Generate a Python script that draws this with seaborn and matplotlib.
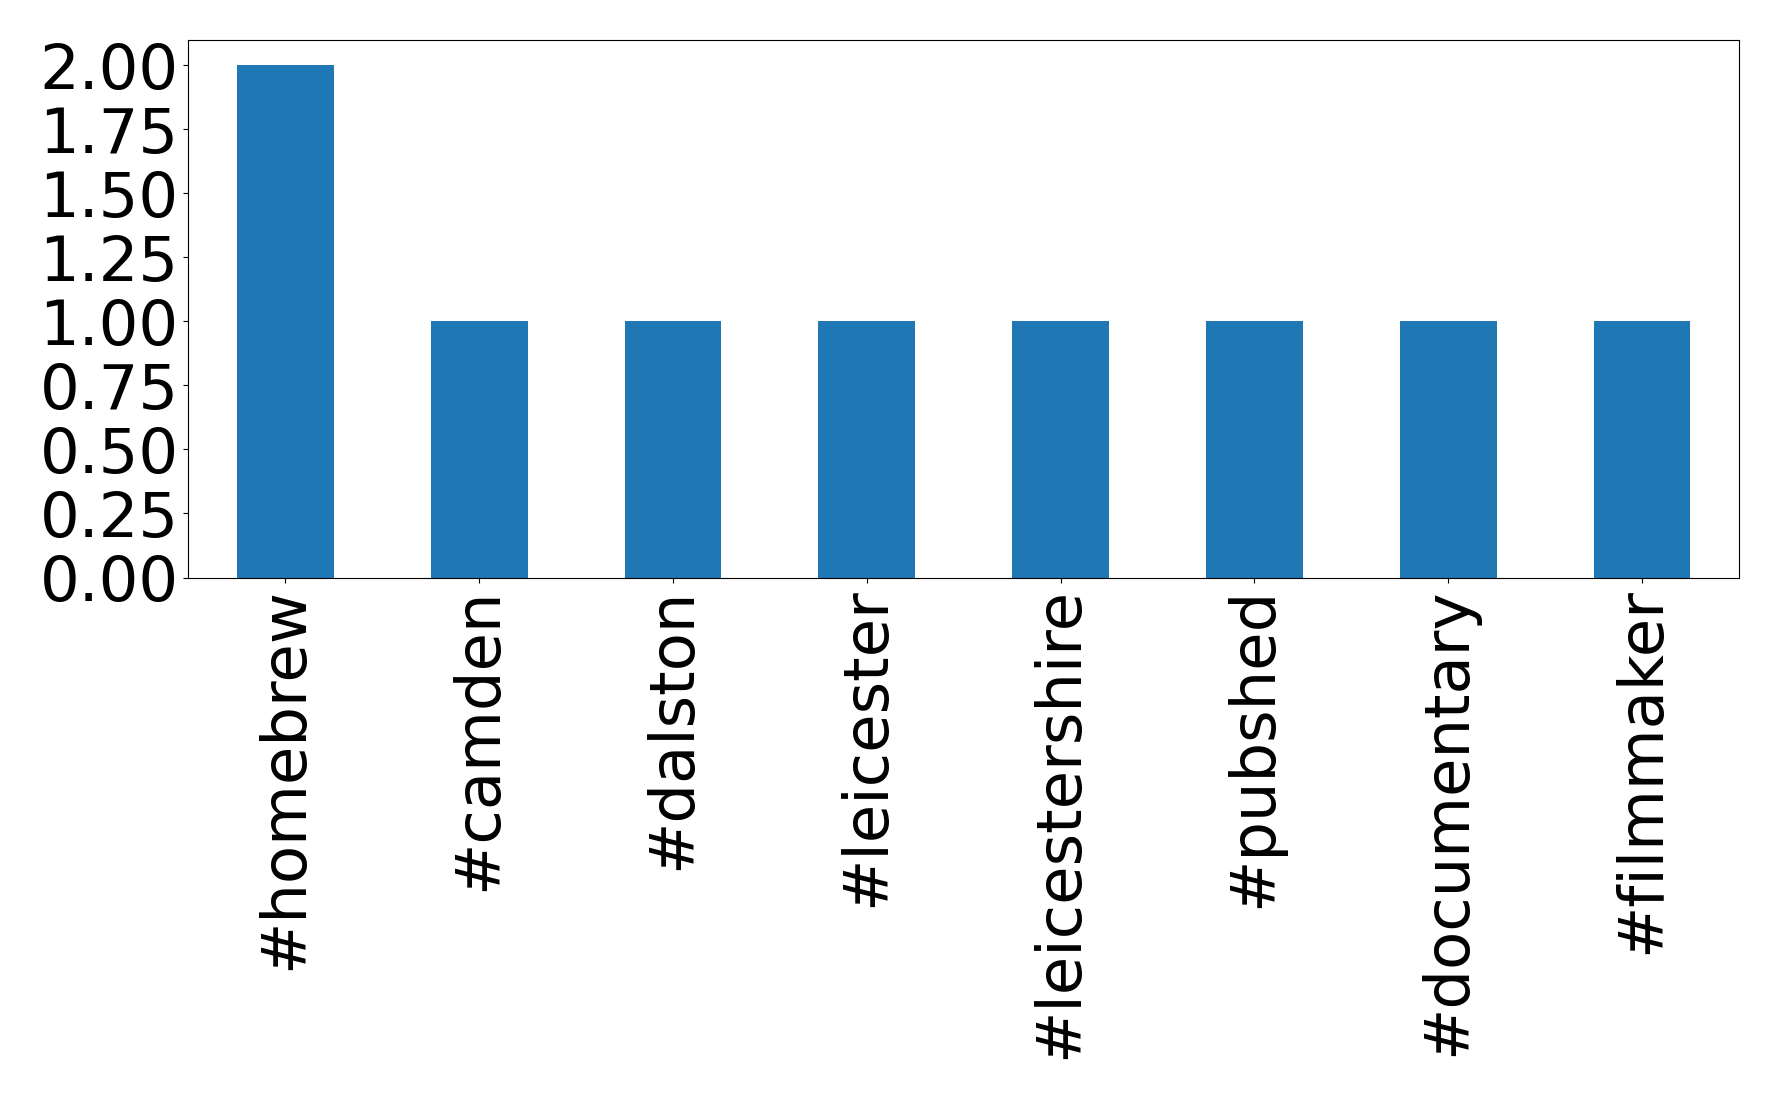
import pandas as pd
import matplotlib
matplotlib.use("Agg")
import matplotlib.pyplot as plt
import seaborn as sns

hashtags = ["#homebrew", "#camden", "#dalston", "#leicester",
            "#leicestershire", "#pubshed", "#documentary", "#filmmaker"]
counts = [2, 1, 1, 1, 1, 1, 1, 1]

df = pd.DataFrame({"hashtag": hashtags, "count": counts})

fig, ax = plt.subplots(figsize=(17.78, 11), dpi=100)
sns.barplot(data=df, x="hashtag", y="count", color="#1f77b4",
            saturation=1, width=0.5, ax=ax)
ax.set_xlabel("")
ax.set_ylabel("")
ax.set_xlim(-0.5, len(hashtags) - 0.5)
ax.set_yticks([0, 0.25, 0.5, 0.75, 1.0, 1.25, 1.5, 1.75, 2.0])
ax.set_yticklabels([f"{v:.2f}" for v in ax.get_yticks()])
ax.set_ylim(0, 2.1)
ax.tick_params(axis="both", labelsize=45)
plt.setp(ax.get_xticklabels(), rotation=90)

plt.subplots_adjust(left=0.106, right=0.978, top=0.964, bottom=0.475)
plt.savefig("out.png", dpi=100)
